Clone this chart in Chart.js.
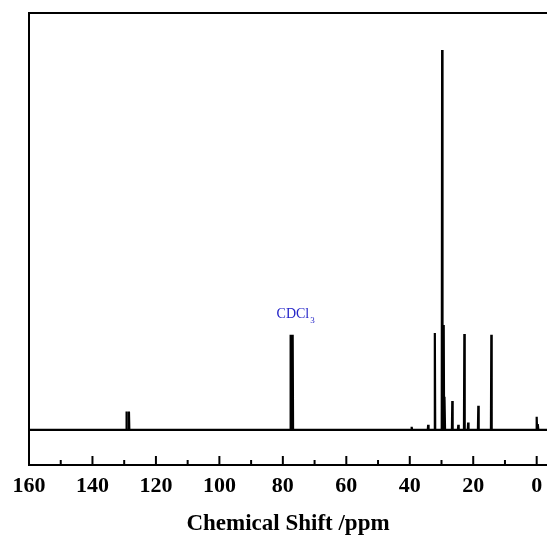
<!DOCTYPE html>
<html>
<head>
<meta charset="utf-8">
<script src="https://cdn.jsdelivr.net/npm/chart.js@4.4.0/dist/chart.umd.min.js"></script>
<style>
  html, body { margin: 0; padding: 0; background: #fff; }
  #wrap { width: 547px; height: 542px; }
</style>
</head>
<body>
<div id="wrap"><canvas id="nmrChart"></canvas></div>
<script>
// 13C NMR spectrum (CDCl3)

// peak positions (ppm) and intensities (arbitrary units)
const peakShifts  = [129.3, 128.5, 77.6, 77.25, 76.9, 39.4, 34.2, 32.1, 29.8, 29.3, 29.0, 26.6, 24.7, 22.8, 21.6, 18.4, 14.3, 0.0, -0.4];
const peakHeights = [4.7,   4.7,   24.4, 24.4,  24.4, 0.8,  1.3,  24.9, 97.5, 26.9, 8.5,  7.4,  1.3,  24.6, 1.9,  6.2,  24.4, 3.4, 1.5];

const xTicks = [160, 140, 120, 100, 80, 60, 40, 20, 0];
const axisTitle = 'Chemical Shift /ppm';
const solventLabel = 'CDCl';
const solventSub = '3';
const solventShift = 77.25;

// build the spectrum trace: baseline with narrow spikes at each peak
const spectrum = [{ x: 160, y: 0 }];
peakShifts.forEach((s, i) => {
    spectrum.push({ x: s + 0.12, y: 0 });
    spectrum.push({ x: s, y: peakHeights[i] });
    spectrum.push({ x: s - 0.12, y: 0 });
});
spectrum.push({ x: -3.25, y: 0 });

const FONT = '"Liberation Serif", "Times New Roman", serif';

// frame (top/left/bottom), inward ticks, solvent label
const decorPlugin = {
    id: 'decor',
    afterDraw(chart) {
        const { ctx, chartArea: a, scales: { x, y } } = chart;
        ctx.save();
        ctx.strokeStyle = '#000';
        ctx.lineWidth = 2;
        ctx.beginPath();
        ctx.moveTo(chart.width + 2, a.top);
        ctx.lineTo(a.left, a.top);
        ctx.lineTo(a.left, a.bottom);
        ctx.lineTo(chart.width + 2, a.bottom);
        ctx.stroke();

        x.ticks.forEach(t => {
            const px = x.getPixelForValue(t.value);
            const len = xTicks.includes(t.value) ? 9 : 5;
            ctx.beginPath();
            ctx.moveTo(px, a.bottom);
            ctx.lineTo(px, a.bottom - len);
            ctx.stroke();
        });

        const lx = x.getPixelForValue(solventShift) - 15;
        const ly = y.getPixelForValue(peakHeights[peakShifts.indexOf(solventShift)]) - 17;
        ctx.fillStyle = '#2424c8';
        ctx.textAlign = 'left';
        ctx.textBaseline = 'alphabetic';
        ctx.font = '14px ' + FONT;
        ctx.fillText(solventLabel, lx, ly);
        const w = ctx.measureText(solventLabel).width;
        ctx.font = '9px ' + FONT;
        ctx.fillText(solventSub, lx + w + 1, ly + 5);
        ctx.restore();
    }
};

new Chart(document.getElementById('nmrChart'), {
    type: 'line',
    data: {
        datasets: [{
            data: spectrum,
            borderColor: '#000',
            borderWidth: 2.2,
            pointRadius: 0,
            tension: 0,
            fill: false
        }]
    },
    options: {
        responsive: true,
        maintainAspectRatio: false,
        animation: false,
        layout: { padding: { left: 29, top: 13, right: 0, bottom: 0 } },
        plugins: { legend: { display: false }, tooltip: { enabled: false } },
        scales: {
            x: {
                type: 'linear',
                reverse: true,
                min: -3.25,
                max: 160,
                border: { display: false },
                grid: { display: false, drawTicks: false },
                afterFit: (scale) => {
                    scale.height = 77;
                    scale.paddingLeft = 0;
                    scale.paddingRight = 0;
                },
                ticks: {
                    stepSize: 10,
                    includeBounds: false,
                    autoSkip: false,
                    maxRotation: 0,
                    padding: 8,
                    color: '#000',
                    font: { family: FONT, size: 22, weight: 'bold' },
                    callback: (v) => xTicks.includes(v) ? String(v) : ''
                },
                title: {
                    display: true,
                    text: axisTitle,
                    color: '#000',
                    padding: { top: 0, bottom: 4 },
                    font: { family: FONT, size: 23, weight: 'bold' }
                }
            },
            y: {
                display: false,
                min: -9,
                max: 107
            }
        }
    },
    plugins: [decorPlugin]
});
</script>
</body>
</html>
